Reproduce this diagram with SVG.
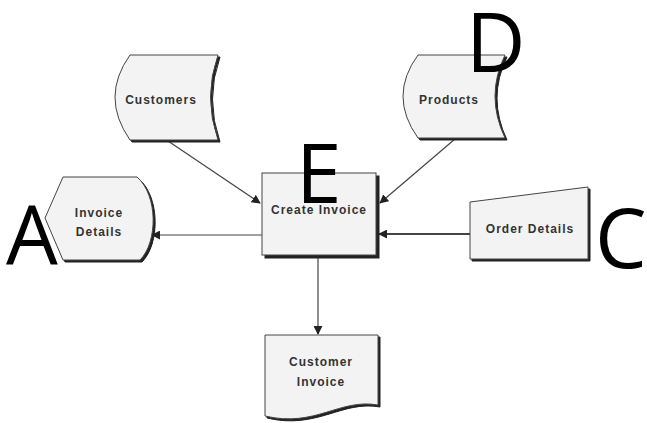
<svg xmlns="http://www.w3.org/2000/svg" width="647" height="423" viewBox="0 0 647 423">
<defs>
<style>
.shape{fill:#f3f3f3;stroke:#444;stroke-width:1}
.shadow{fill:#222;stroke:#222;stroke-width:1}
.lbl{font-family:"Liberation Sans",Arial,sans-serif;font-size:12px;font-weight:bold;fill:#333;text-anchor:middle;letter-spacing:1px}
.big{font-family:"Open Sans","Liberation Sans",sans-serif;font-size:82px;fill:#000}
.conn{stroke:#444;stroke-width:1.2;fill:none;marker-end:url(#arr)}
</style>
<marker id="arr" viewBox="0 0 10 10" refX="9" refY="5" markerWidth="9" markerHeight="9" markerUnits="userSpaceOnUse" orient="auto">
<path d="M0,0 L10,5 L0,10 Z" fill="#222"/>
</marker>
</defs>
<rect width="647" height="423" fill="#fff"/>
<g id="connectors">
<line class="conn" x1="168" y1="141" x2="260" y2="203"/>
<line class="conn" x1="455" y1="139" x2="380" y2="203"/>
<line class="conn" x1="262" y1="235" x2="152" y2="235"/>
<line class="conn" x1="470" y1="234" x2="379" y2="234" style="stroke-width:2"/>
<line class="conn" x1="318" y1="258" x2="318" y2="334"/>
</g>
<g id="customers">
<path class="shadow" d="M132,57 L220,57 Q205,99 220,142 L132,142 Q102,99 132,57 Z"/>
<path class="shape" d="M130,55 L218,55 Q203,97 218,140 L130,140 Q100,97 130,55 Z"/>
<text class="lbl" x="161" y="104">Customers</text>
</g>
<g id="products">
<path class="shadow" d="M420,57 L507,57 Q487,98 507,140 L420,140 Q390,98 420,57 Z"/>
<path class="shape" d="M418,55 L505,55 Q485,96 505,138 L418,138 Q388,96 418,55 Z"/>
<text class="lbl" x="449" y="104">Products</text>
</g>
<g id="invoice-details">
<path class="shadow" d="M65,179 L139,179 C160,197 160,244 142,262 L65,262 L47,220 Z"/>
<path class="shape" d="M63,177 L137,177 C158,195 158,242 140,260 L63,260 L45,218 Z"/>
<text class="lbl" x="99" y="217">Invoice</text>
<text class="lbl" x="99" y="236">Details</text>
</g>
<g id="create-invoice">
<rect class="shadow" x="265" y="176" width="114" height="82"/>
<rect class="shape" x="262" y="173" width="114" height="82"/>
<text class="lbl" x="319" y="214">Create Invoice</text>
</g>
<g id="order-details">
<path class="shadow" d="M472,204 L590,189 L590,261 L472,261 Z"/>
<path class="shape" d="M470,202 L588,187 L588,259 L470,259 Z"/>
<text class="lbl" x="530" y="233">Order Details</text>
</g>
<g id="customer-invoice">
<path class="shadow" d="M267,337 H380 V407 C342,400 317,430 267,418 Z"/>
<path class="shape" d="M265,335 H378 V405 C340,398 315,428 265,416 Z"/>
<text class="lbl" x="321" y="366">Customer</text>
<text class="lbl" x="321" y="386">Invoice</text>
</g>
<g id="letters">
<text class="big" x="6" y="265">A</text>
<text class="big" x="466" y="72">D</text>
<text class="big" x="296" y="203">E</text>
<text class="big" x="595" y="268">C</text>
</g>
</svg>
